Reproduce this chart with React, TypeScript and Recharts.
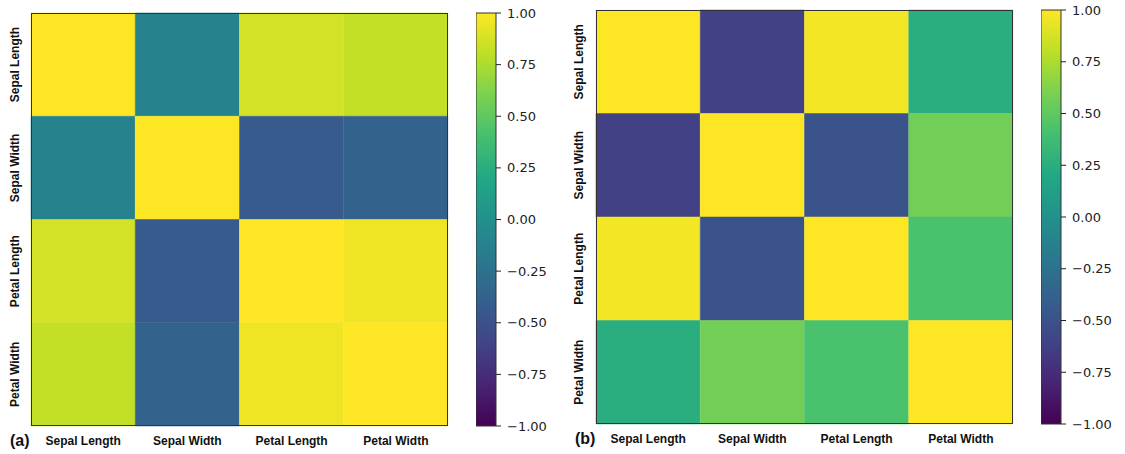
import React from 'react'
import { BarChart, Bar, Cell, XAxis, YAxis } from 'recharts'

const features = ['Sepal Length', 'Sepal Width', 'Petal Length', 'Petal Width']

// correlation matrices, row = y (top to bottom), col = x
const corrA = [
  [1.0, -0.12, 0.87, 0.82],
  [-0.12, 1.0, -0.43, -0.37],
  [0.87, -0.43, 1.0, 0.96],
  [0.82, -0.37, 0.96, 1.0],
]
const corrB = [
  [1.0, -0.62, 0.97, 0.25],
  [-0.62, 1.0, -0.48, 0.57],
  [0.97, -0.48, 1.0, 0.42],
  [0.25, 0.57, 0.42, 1.0],
]
const cbarTicks = [-1, -0.75, -0.5, -0.25, 0, 0.25, 0.5, 0.75, 1]

const VIR = ['#440154', '#482475', '#414487', '#355f8d', '#2a788e', '#21918c', '#22a884', '#44bf70', '#7ad151', '#bddf26', '#fde725']

function hex(c: string) {
  return [1, 3, 5].map(i => parseInt(c.slice(i, i + 2), 16))
}
function viridis(v: number) {
  const t = Math.max(0, Math.min(1, (v + 1) / 2)) * 10
  const i = Math.min(9, Math.floor(t))
  const f = t - i
  const a = hex(VIR[i]), b = hex(VIR[i + 1])
  const c = a.map((x, k) => Math.round(x + (b[k] - x) * f))
  return `rgb(${c[0]},${c[1]},${c[2]})`
}

const rowKeys = ['r0', 'r1', 'r2', 'r3']
const cellTable = features.map(name => ({ name, r0: 1, r1: 1, r2: 1, r3: 1 }))

const labelFont = '"Liberation Sans", Arial, sans-serif'
const tickFont = '"DejaVu Sans", sans-serif'

function XTick({ x, y, payload }: any) {
  return (
    <text x={x} y={y + 11} textAnchor="middle" fontSize={12} fontWeight="bold" fontFamily={labelFont} fill="#111">
      {payload.value}
    </text>
  )
}

function YTick({ y, payload, labelX }: any) {
  return (
    <text transform={`translate(${labelX},${y}) rotate(-90)`} textAnchor="middle" dominantBaseline="central"
      fontSize={12} fontWeight="bold" fontFamily={labelFont} fill="#111">
      {features[Math.floor(payload.value)]}
    </text>
  )
}

function Heat({ corr, left, top, bottom, right, tag }: any) {
  const w = right - left + 31 + 12
  return (
    <div style={{ position: 'absolute', left: left - 31, top: 0 }}>
      <BarChart width={w} height={454} data={cellTable} barCategoryGap={0} barGap={0}
        margin={{ top, right: 12, bottom: 0, left: 0 }}>
        <XAxis dataKey="name" tickLine={false} axisLine={false} tick={<XTick />} height={454 - bottom} interval={0} />
        <YAxis type="number" domain={[0, 4]} reversed ticks={[0.5, 1.5, 2.5, 3.5]} width={31}
          tickLine={false} axisLine={false} tick={<YTick labelX={left === 31 ? 15 : 14} />} />
        {rowKeys.map((k, r) => (
          <Bar key={k} dataKey={k} stackId="s" isAnimationActive={false}>
            {cellTable.map((_, c) => <Cell key={c} fill={viridis(corr[r][c])} stroke={viridis(corr[r][c])} strokeWidth={0.5} />)}
          </Bar>
        ))}
      </BarChart>
      <div style={{ position: 'absolute', left: 31, top, width: right - left - 2, height: bottom - top - 2, border: '1px solid #333' }} />
      <div style={{ position: 'absolute', left: 10, top: bottom + 6, fontFamily: labelFont, fontWeight: 'bold', fontSize: 16, color: '#111' }}>{tag}</div>
    </div>
  )
}

const fmt = (v: number) => (v < 0 ? '\u2212' + Math.abs(v).toFixed(2) : v.toFixed(2))

function ColorBar({ left, top, bottom }: any) {
  return (
    <div style={{ position: 'absolute', left, top: 0 }}>
      <BarChart width={90} height={454} data={[{ name: 'cb', range: [-1, 1] }]} barCategoryGap={0}
        margin={{ top, right: 0, bottom: 454 - bottom, left: 0 }}>
        <XAxis dataKey="name" hide />
        <YAxis type="number" orientation="right" domain={[-1, 1]} ticks={cbarTicks} width={70}
          tickFormatter={fmt} axisLine={false} tickSize={5} tickMargin={6} tickLine={{ stroke: '#222' }}
          tick={{ fontSize: 13, fontFamily: tickFont, fill: '#222' }} interval={0} />
        <Bar dataKey="range" fill="url(#viridisGrad)" stroke="#333" strokeWidth={1} isAnimationActive={false} />
      </BarChart>
    </div>
  )
}

export default function App() {
  return (
    <div style={{ position: 'absolute', left: 0, top: 0, width: 1125, height: 454, background: '#fff' }}>
      <svg width={0} height={0} style={{ position: 'absolute' }}>
        <defs>
          <linearGradient id="viridisGrad" x1="0" y1="1" x2="0" y2="0">
            {VIR.map((c, i) => <stop key={i} offset={`${i * 10}%`} stopColor={c} />)}
          </linearGradient>
        </defs>
      </svg>
      <Heat corr={corrA} left={31} right={448} top={13} bottom={426} tag="(a)" />
      <ColorBar left={476} top={13} bottom={426} />
      <Heat corr={corrB} left={596} right={1013} top={10} bottom={424} tag="(b)" />
      <ColorBar left={1041} top={10} bottom={424} />
    </div>
  )
}
